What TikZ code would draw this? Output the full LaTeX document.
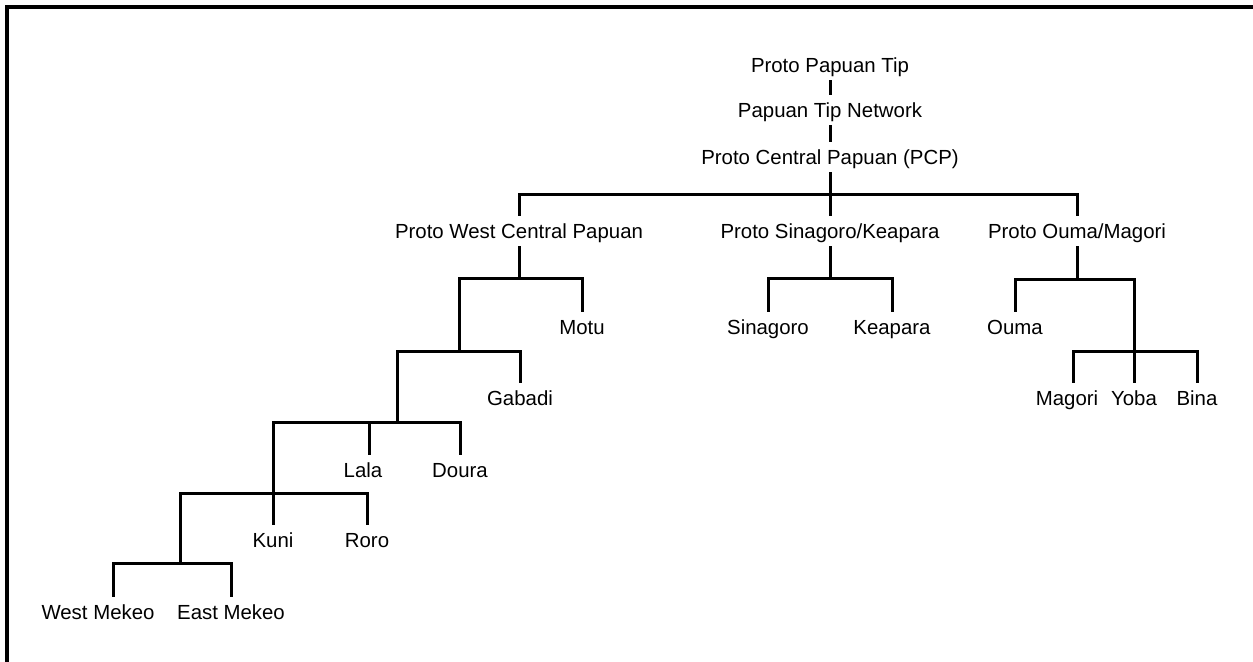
\documentclass[tikz,border=0pt]{standalone}
\usepackage{fontspec}
\setmainfont{Liberation Sans}
\usetikzlibrary{positioning}

\begin{document}
\begin{tikzpicture}[
  x=0.5pt, y=-0.5pt,
  every node/.style={font=\fontsize{10.2}{12}\selectfont},
  lang/.style={inner xsep=1pt, inner ysep=2pt, text height=0.9em, text depth=0.2em},
  branch/.style={line width=1.5pt},
  frame/.style={line width=1.6pt},
]
\useasboundingbox (0,0) rectangle (1253,661);
\draw[frame] (7,670) -- (7,7) -- (1260,7);
% top of the tree
\node[lang] (ppt) at (830,65) {Proto Papuan Tip};
\node[lang] (ptn) at (830,110) {Papuan Tip Network};
\node[lang] (pcp) at (830,157) {Proto Central Papuan (PCP)};
\node[lang] (wcp) at (519,231) {Proto West Central Papuan};
\node[lang] (sk)  at (830,231) {Proto Sinagoro/Keapara};
\node[lang] (om)  at (1077,231) {Proto Ouma/Magori};
% leaves
\node[lang] (motu)   at (582,327) {Motu};
\node[lang] (gabadi) at (520,398) {Gabadi};
\node[lang] (lala)   at (363,470) {Lala};
\node[lang] (doura)  at (460,470) {Doura};
\node[lang] (kuni)   at (273,540) {Kuni};
\node[lang] (roro)   at (367,540) {Roro};
\node[lang] (wm)     at (98,612) {West Mekeo};
\node[lang] (em)     at (231,612) {East Mekeo};
\node[lang] (sin)    at (768,327) {Sinagoro};
\node[lang] (kea)    at (892,327) {Keapara};
\node[lang] (ouma)   at (1015,327) {Ouma};
\node[lang] (magori) at (1067,398) {Magori};
\node[lang] (yoba)   at (1134,398) {Yoba};
\node[lang] (bina)   at (1197,398) {Bina};
% unlabelled junctions
\coordinate (j1) at (459,351);
\coordinate (j2) at (397,422);
\coordinate (j3) at (273,493);
\coordinate (j4) at (180,563);
\coordinate (j5) at (1134,351);
% branches
\draw[branch] (ppt) -- (ptn);
\draw[branch] (ptn) -- (pcp);
\draw[branch] (pcp.south) -- ++(0,22) coordinate (b0);
\draw[branch] (wcp.north) |- (b0) -| (om.north);
\draw[branch] (b0) -- (sk.north);
\draw[branch] (wcp.south) -- ++(0,32) coordinate (b1);
\draw[branch] (j1) |- (b1) -| (motu.north);
\draw[branch] (j2) |- (j1) -| (gabadi.north);
\draw[branch] (j3) |- (j2) -| (doura.north);
\draw[branch] ([xshift=3pt]lala.north) -- ([xshift=3pt]lala.north |- j2);
\draw[branch] (j3) -- (kuni.north);
\draw[branch] (j4) |- (j3) -| (roro.north);
\draw[branch] ([xshift=7.5pt]wm.north) |- (j4) -| (em.north);
\draw[branch] (sk.south) -- ++(0,32) coordinate (b2);
\draw[branch] (sin.north) |- (b2) -| (kea.north);
\draw[branch] (om.south) -- ++(0,33) coordinate (b3);
\draw[branch] (ouma.north) |- (b3) -| (j5);
\draw[branch] (j5) -- (yoba.north);
\draw[branch] ([xshift=3pt]magori.north) |- (j5) -| (bina.north);
\end{tikzpicture}
\end{document}
